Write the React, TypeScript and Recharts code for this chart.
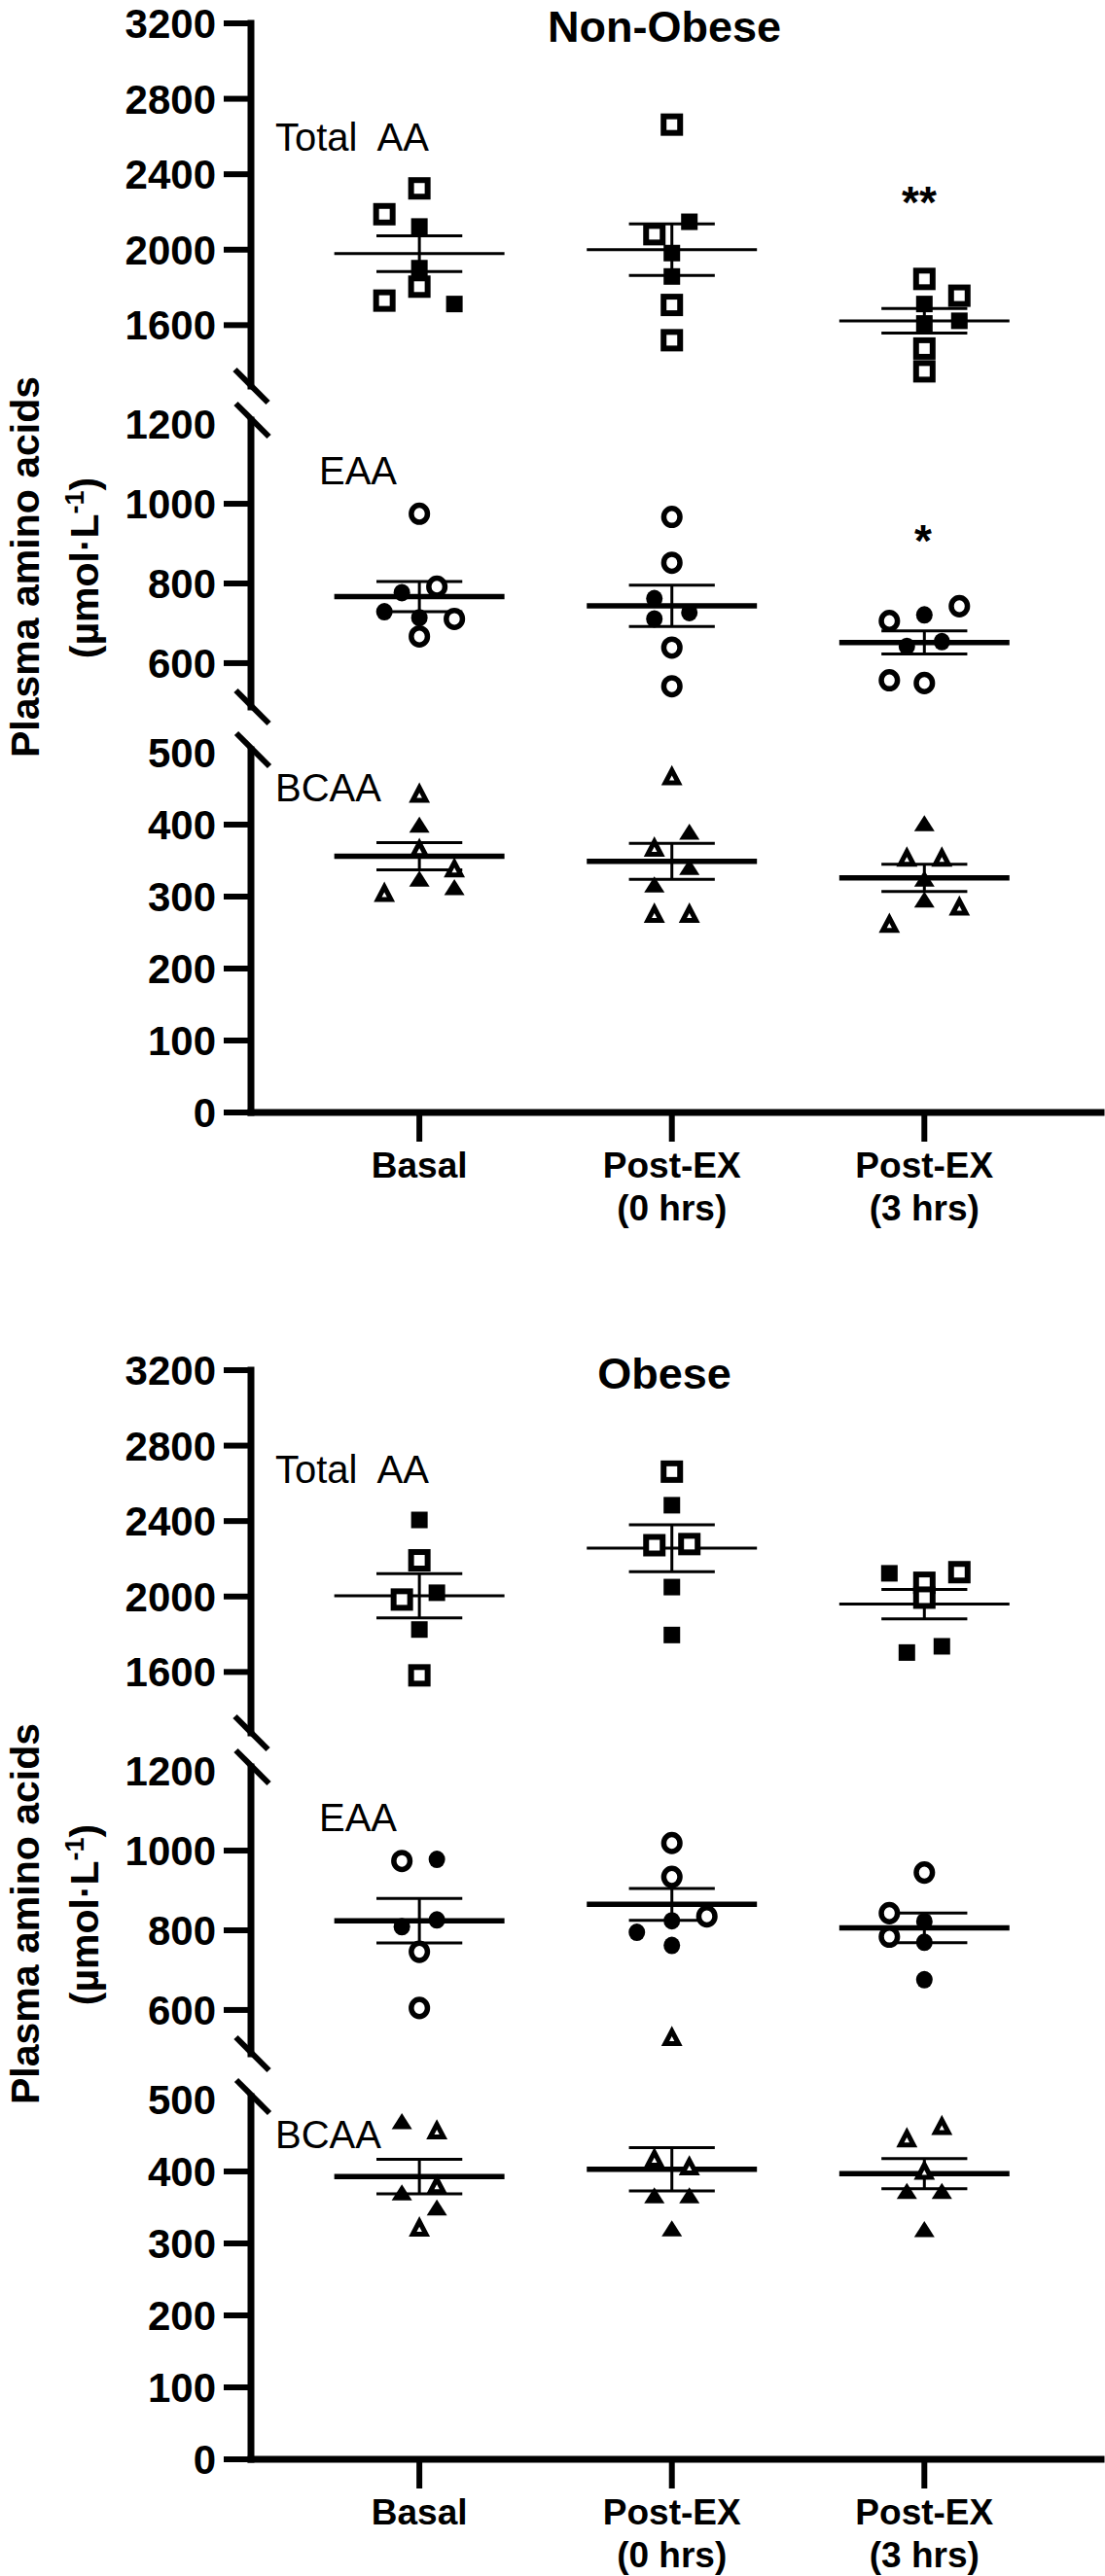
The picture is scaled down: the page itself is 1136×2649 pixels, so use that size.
import React from 'react';
import { ScatterChart, Scatter, XAxis, YAxis, ReferenceLine } from 'recharts';

const FONT = '"Liberation Sans", Arial, Helvetica, sans-serif';

// ---------- categories & ticks ----------
const categories = ['Basal', 'Post-EX (0 hrs)', 'Post-EX (3 hrs)'];
const categoryLines = [['Basal'], ['Post-EX', '(0 hrs)'], ['Post-EX', '(3 hrs)']];
const categoryPositions = [1, 2, 3];
const xDomain = [0.333, 3.7];

const totalTicks = [1600, 2000, 2400, 2800, 3200];
const eaaTicks = [600, 800, 1000, 1200];
const bcaaTicks = [0, 100, 200, 300, 400, 500];

const totalDomain = [1277, 3200];
const eaaDomain = [490, 1210];
const bcaaDomain = [0, 504];

// ---------- Non-Obese data ----------
const nonObeseTotalOpen = [[2325, 2188, 1804, 1730], [2663, 2082, 1707, 1520], [1845, 1756, 1476, 1355]];
const nonObeseTotalOpenJitter = [[0, -2, 0, -2], [0, -1, 0, 0], [0, 2, 0, 0]];
const nonObeseTotalFilled = [[2123, 1902, 1712], [2148, 1982, 1858], [1712, 1609, 1623]];
const nonObeseTotalFilledJitter = [[0, 0, 2], [1, 0, 0], [0, 0, 2]];
const nonObeseTotalMean = [1979, 2000, 1623];
const nonObeseTotalSem = [95, 137, 65];

const nonObeseEaaOpen = [[975, 792, 711, 667], [967, 852, 639, 542], [743, 706, 557, 550]];
const nonObeseEaaOpenJitter = [[0, 1, 2, 0], [0, 0, 0, 0], [2, -2, -2, 0]];
const nonObeseEaaFilled = [[777, 729, 714], [762, 727, 711], [721, 654, 642]];
const nonObeseEaaFilledJitter = [[-1, -2, 0], [-1, 1, -1], [0, 1, -1]];
const nonObeseEaaMean = [767, 744, 652];
const nonObeseEaaSem = [38, 52, 29];

const nonObeseBcaaOpen = [[442, 365, 338, 304], [466, 367, 275, 275], [353, 353, 285, 261]];
const nonObeseBcaaOpenJitter = [[0, 0, 2, -2], [0, -1, -1, 1], [-1, 1, 2, -2]];
const nonObeseBcaaFilled = [[399, 324, 312], [389, 340, 316], [401, 324, 295]];
const nonObeseBcaaFilledJitter = [[0, 0, 2], [1, 1, -1], [0, 0, 0]];
const nonObeseBcaaMean = [356, 349, 326];
const nonObeseBcaaSem = [19, 25, 19];

// ---------- Obese data ----------
const obeseTotalOpen = [[2192, 1984, 1582], [2662, 2272, 2278], [2129, 2073, 1994]];
const obeseTotalOpenJitter = [[0, -1, 0], [0, -1, 1], [2, 0, 0]];
const obeseTotalFilled = [[2406, 2020, 1825], [2484, 2050, 1796], [2123, 1736, 1703]];
const obeseTotalFilledJitter = [[0, 1, 0], [0, 0, 0], [-2, 1, -1]];
const obeseTotalMean = [2004, 2256, 1960];
const obeseTotalSem = [117, 124, 78];

const obeseEaaOpen = [[974, 746, 605], [1019, 934, 835], [945, 843, 784]];
const obeseEaaOpenJitter = [[-1, 0, 0], [0, 0, 2], [0, -2, -2]];
const obeseEaaFilled = [[978, 826, 809], [824, 795, 762], [822, 770, 676]];
const obeseEaaFilledJitter = [[1, 1, -1], [0, -2, 0], [0, 0, 0]];
const obeseEaaMean = [824, 865, 806];
const obeseEaaSem = [56, 40, 37];

const obeseBcaaOpen = [[456, 380, 321], [530, 417, 406], [462, 445, 400]];
const obeseBcaaOpenJitter = [[1, 1, 0], [0, -1, 1], [1, -1, 0]];
const obeseBcaaFilled = [[469, 370, 349], [366, 366, 320], [372, 372, 319]];
const obeseBcaaFilledJitter = [[-1, -1, 1], [-1, 1, 0], [-1, 1, 0]];
const obeseBcaaMean = [393, 403, 397];
const obeseBcaaSem = [24, 30, 21];

// ---------- helpers ----------
const JIT = 0.0693;
const MEAN_HALF = 0.337;
const SEM_HALF = 0.17;

type Kind = 'square' | 'circle' | 'triangle';
type Pt = { x: number; y: number };

function buildPoints(values: number[][], jit: number[][]): Pt[] {
  const out: Pt[] = [];
  values.forEach((arr, ci) =>
    arr.forEach((v, i) => out.push({ x: categoryPositions[ci] + jit[ci][i] * JIT, y: v }))
  );
  return out;
}

function makeShape(kind: Kind, filled: boolean) {
  return (props: any) => {
    const { cx, cy } = props;
    if (cx == null || cy == null) return <g />;
    if (kind === 'square') {
      return filled ? (
        <rect x={cx - 8.5} y={cy - 8.5} width={17} height={17} fill="#000" />
      ) : (
        <rect x={cx - 8.5} y={cy - 8.5} width={17} height={17} fill="#fff" stroke="#000" strokeWidth={6} />
      );
    }
    if (kind === 'circle') {
      return filled ? (
        <ellipse cx={cx} cy={cy} rx={8.5} ry={9} fill="#000" />
      ) : (
        <ellipse cx={cx} cy={cy} rx={8.3} ry={8.8} fill="#fff" stroke="#000" strokeWidth={5.5} />
      );
    }
    if (filled) {
      const p = `${cx},${cy - 9} ${cx - 10.5},${cy + 7.5} ${cx + 10.5},${cy + 7.5}`;
      return <polygon points={p} fill="#000" />;
    }
    const p = `${cx},${cy - 7} ${cx - 6.8},${cy + 6} ${cx + 6.8},${cy + 6}`;
    return <polygon points={p} fill="#fff" stroke="#000" strokeWidth={5} strokeLinejoin="miter" />;
  };
}

type Series = {
  kind: Kind;
  open: Pt[];
  filled: Pt[];
  mean: number[];
  sem: number[];
  meanWidth: number;
};

type Panel = {
  offset: number;
  title: string;
  series: Series[];
  totalLabelBaseline: number;
  stars: { text: string; x: number; y: number }[];
};

const panels: Panel[] = [
  {
    offset: 0,
    title: 'Non-Obese',
    totalLabelBaseline: 155,
    stars: [
      { text: '**', x: 945, y: 224 },
      { text: '*', x: 949, y: 572 },
    ],
    series: [
      { kind: 'square', open: buildPoints(nonObeseTotalOpen, nonObeseTotalOpenJitter), filled: buildPoints(nonObeseTotalFilled, nonObeseTotalFilledJitter), mean: nonObeseTotalMean, sem: nonObeseTotalSem, meanWidth: 3 },
      { kind: 'circle', open: buildPoints(nonObeseEaaOpen, nonObeseEaaOpenJitter), filled: buildPoints(nonObeseEaaFilled, nonObeseEaaFilledJitter), mean: nonObeseEaaMean, sem: nonObeseEaaSem, meanWidth: 5.5 },
      { kind: 'triangle', open: buildPoints(nonObeseBcaaOpen, nonObeseBcaaOpenJitter), filled: buildPoints(nonObeseBcaaFilled, nonObeseBcaaFilledJitter), mean: nonObeseBcaaMean, sem: nonObeseBcaaSem, meanWidth: 5.5 },
    ],
  },
  {
    offset: 1385,
    title: 'Obese',
    totalLabelBaseline: 140,
    stars: [],
    series: [
      { kind: 'square', open: buildPoints(obeseTotalOpen, obeseTotalOpenJitter), filled: buildPoints(obeseTotalFilled, obeseTotalFilledJitter), mean: obeseTotalMean, sem: obeseTotalSem, meanWidth: 3 },
      { kind: 'circle', open: buildPoints(obeseEaaOpen, obeseEaaOpenJitter), filled: buildPoints(obeseEaaFilled, obeseEaaFilledJitter), mean: obeseEaaMean, sem: obeseEaaSem, meanWidth: 5.5 },
      { kind: 'triangle', open: buildPoints(obeseBcaaOpen, obeseBcaaOpenJitter), filled: buildPoints(obeseBcaaFilled, obeseBcaaFilledJitter), mean: obeseBcaaMean, sem: obeseBcaaSem, meanWidth: 5.5 },
    ],
  },
];

type Seg = {
  key: string;
  domain: number[];
  ticks: number[];
  plotTop: number;
  plotBottom: number;
  noLine: number[];
  showX: boolean;
};

const segments: Seg[] = [
  { key: 'total', domain: totalDomain, ticks: totalTicks, plotTop: 24, plotBottom: 397, noLine: [], showX: false },
  { key: 'eaa', domain: eaaDomain, ticks: eaaTicks, plotTop: 432, plotBottom: 727, noLine: [1200], showX: false },
  { key: 'bcaa', domain: bcaaDomain, ticks: bcaaTicks, plotTop: 771, plotBottom: 1144, noLine: [500], showX: true },
];

const breakCenters = [
  [258.5, 397],
  [259.5, 432],
  [259.5, 727],
  [260, 771],
];

const YTick = (props: any) => {
  const { x, y, payload, noLine } = props;
  const v = payload.value;
  return (
    <g>
      {!noLine.includes(v) && <line x1={x + 8} x2={x + 36} y1={y} y2={y} stroke="#000" strokeWidth={6} />}
      <text x={x} y={y + 15} textAnchor="end" fontFamily={FONT} fontWeight="bold" fontSize={42} fill="#000">
        {v}
      </text>
    </g>
  );
};

const XTick = (props: any) => {
  const { x, y, payload } = props;
  const idx = categoryPositions.indexOf(payload.value);
  const lines = idx >= 0 ? categoryLines[idx] : [];
  return (
    <g>
      {lines.map((l, i) => (
        <text key={i} x={x} y={y + 37 + i * 44} textAnchor="middle" fontFamily={FONT} fontWeight="bold" fontSize={37} fill="#000">
          {l}
        </text>
      ))}
    </g>
  );
};

function SegmentChart({ seg, panel }: { seg: Seg; panel: Panel }) {
  const mt = 24;
  const mb = 24;
  const xH = 135;
  const plotH = seg.plotBottom - seg.plotTop;
  const h = mt + plotH + (seg.showX ? xH : mb);
  const top = panel.offset + seg.plotTop - mt;
  const inDom = (v: number) => v >= seg.domain[0] && v <= seg.domain[1];
  const lines: React.ReactNode[] = [];
  panel.series.forEach((s, si) => {
    s.mean.forEach((m, ci) => {
      if (!inDom(m)) return;
      const c = categoryPositions[ci];
      const e = s.sem[ci];
      const k = `${si}-${ci}`;
      lines.push(
        <ReferenceLine key={`m${k}`} segment={[{ x: c - MEAN_HALF, y: m }, { x: c + MEAN_HALF, y: m }]} stroke="#000" strokeWidth={s.meanWidth} ifOverflow="visible" />,
        <ReferenceLine key={`u${k}`} segment={[{ x: c - SEM_HALF, y: m + e }, { x: c + SEM_HALF, y: m + e }]} stroke="#000" strokeWidth={3} ifOverflow="visible" />,
        <ReferenceLine key={`l${k}`} segment={[{ x: c - SEM_HALF, y: m - e }, { x: c + SEM_HALF, y: m - e }]} stroke="#000" strokeWidth={3} ifOverflow="visible" />,
        <ReferenceLine key={`v${k}`} segment={[{ x: c, y: m - e }, { x: c, y: m + e }]} stroke="#000" strokeWidth={3} ifOverflow="visible" />
      );
    });
  });
  return (
    <div style={{ position: 'absolute', left: 0, top, width: 1136, height: h }}>
      <ScatterChart width={1136} height={h} margin={{ top: mt, right: 4, bottom: seg.showX ? 0 : mb, left: 0 }} style={{ overflow: 'visible' }}>
        <XAxis
          type="number"
          dataKey="x"
          domain={xDomain}
          ticks={categoryPositions}
          interval={0}
          hide={!seg.showX}
          height={xH}
          tickSize={30}
          tickMargin={0}
          axisLine={{ stroke: '#000', strokeWidth: 7, strokeLinecap: 'square' }}
          tickLine={{ stroke: '#000', strokeWidth: 6 }}
          tick={(p: any) => <XTick {...p} />}
          allowDataOverflow
        />
        <YAxis
          type="number"
          dataKey="y"
          domain={seg.domain}
          ticks={seg.ticks}
          interval={0}
          width={258}
          tickSize={28}
          tickMargin={8}
          tickLine={false}
          axisLine={{ stroke: '#000', strokeWidth: 7, strokeLinecap: 'square' }}
          tick={(p: any) => <YTick {...p} noLine={seg.noLine} />}
        />
        {lines}
        {panel.series.map((s, si) => (
          <Scatter key={`o${si}`} data={s.open.filter((p) => inDom(p.y))} shape={makeShape(s.kind, false)} isAnimationActive={false} />
        ))}
        {panel.series.map((s, si) => (
          <Scatter key={`f${si}`} data={s.filled.filter((p) => inDom(p.y))} shape={makeShape(s.kind, true)} isAnimationActive={false} />
        ))}
      </ScatterChart>
    </div>
  );
}

function Overlay() {
  return (
    <svg width={1136} height={2649} style={{ position: 'absolute', left: 0, top: 0, pointerEvents: 'none' }}>
      {panels.map((p, pi) => (
        <g key={pi} transform={`translate(0, ${p.offset})`}>
          <text x={683} y={43} textAnchor="middle" fontFamily={FONT} fontWeight="bold" fontSize={45}>
            {p.title}
          </text>
          {breakCenters.map(([cx, cy], i) => (
            <line key={i} x1={cx - 17} y1={cy - 17} x2={cx + 17} y2={cy + 17} stroke="#000" strokeWidth={6} />
          ))}
          <text x={283} y={p.totalLabelBaseline} fontFamily={FONT} fontSize={40}>
            {'Total\u00a0 AA'}
          </text>
          <text x={328} y={498} fontFamily={FONT} fontSize={40}>
            EAA
          </text>
          <text x={283} y={824} fontFamily={FONT} fontSize={40}>
            BCAA
          </text>
          {p.stars.map((s, i) => (
            <text key={i} x={s.x} y={s.y} textAnchor="middle" fontFamily={FONT} fontWeight="bold" fontSize={46}>
              {s.text}
            </text>
          ))}
          <g transform="translate(40, 583) rotate(-90)">
            <text x={0} y={0} textAnchor="middle" fontFamily={FONT} fontWeight="bold" fontSize={41}>
              Plasma amino acids
            </text>
          </g>
          <g transform="translate(101, 584) rotate(-90)">
            <text x={0} y={0} textAnchor="middle" fontFamily={FONT} fontWeight="bold" fontSize={41}>
              (µmol·L
              <tspan dy={-15} fontSize={27}>
                -1
              </tspan>
              <tspan dy={15}>)</tspan>
            </text>
          </g>
        </g>
      ))}
    </svg>
  );
}

export default function App() {
  return (
    <div style={{ position: 'absolute', left: 0, top: 0, width: 1136, height: 2649, background: '#fff', overflow: 'hidden' }}>
      {panels.map((p, pi) =>
        segments.map((s) => <SegmentChart key={`${pi}-${s.key}`} seg={s} panel={p} />)
      )}
      <Overlay />
    </div>
  );
}
